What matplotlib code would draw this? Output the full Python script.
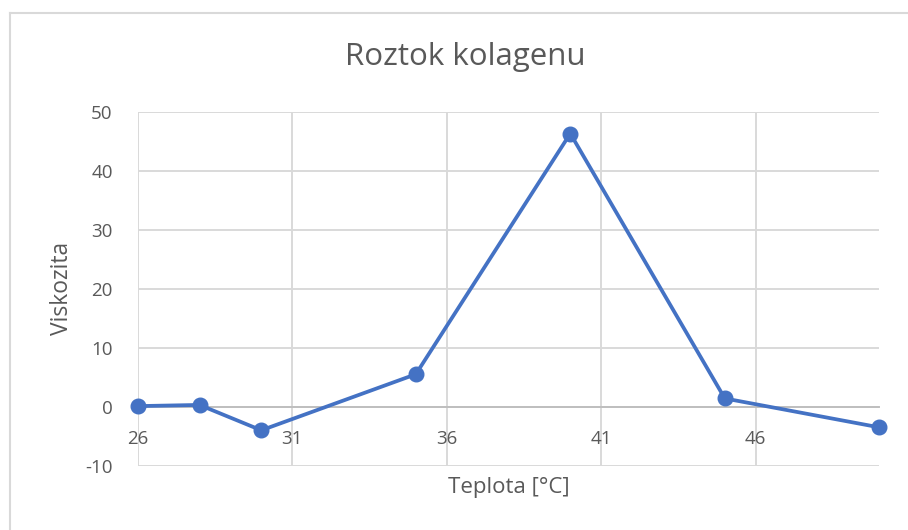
import matplotlib
matplotlib.use("Agg")
import matplotlib.pyplot as plt
from matplotlib.lines import Line2D

# Viscosity of collagen solution vs temperature
teplota = [26, 28, 30, 35, 40, 45, 50]
viskozita = [0.1, 0.3, -4.0, 5.5, 46.3, 1.4, -3.5]
x_ticks = [26, 31, 36, 41, 46]
y_ticks = [-10, 0, 10, 20, 30, 40, 50]

plt.rcParams['font.family'] = ['Open Sans', 'DejaVu Sans']
plt.rcParams['axes.unicode_minus'] = False
TXT = '#595959'
GRID = '#d9d9d9'
BLUE = '#4472C4'

fig = plt.figure(figsize=(9.08, 5.30), dpi=100)
W, H = 908, 530
ax = fig.add_axes([137.7 / W, 1 - 465.7 / H, (879.3 - 137.7) / W, (465.7 - 111.7) / H])

ax.plot(teplota, viskozita, color=BLUE, lw=2.7, marker='o', ms=10.5,
        markerfacecolor=BLUE, markeredgecolor=BLUE, zorder=3, clip_on=False)

ax.set_xlim(26, 50)
ax.set_ylim(-10, 50)
ax.set_xticks(x_ticks)
ax.set_yticks(y_ticks)
ax.grid(True, color=GRID, lw=1.4)
ax.set_axisbelow(True)

for side in ['top', 'right', 'left']:
    ax.spines[side].set_visible(False)
ax.spines['bottom'].set_position(('data', 0))
ax.spines['bottom'].set_color('#bfbfbf')
ax.spines['bottom'].set_linewidth(1.4)

ax.tick_params(axis='both', length=0, labelsize=13.5, labelcolor=TXT)
ax.tick_params(axis='x', pad=17)
ax.tick_params(axis='y', pad=18)

fig.text(508.5 / W, 1 - 487 / H, 'Teplota [°C]', ha='center', va='center',
         fontsize=16, color=TXT)
fig.text(62 / W, 1 - 288 / H, 'Viskozita', ha='center', va='center',
         rotation=90, fontsize=16.5, color=TXT)
fig.text(465 / W, 1 - 57 / H, 'Roztok kolagenu', ha='center', va='center',
         fontsize=22.5, color=TXT)

# chart border
fig.add_artist(Line2D([10 / W, 10 / W], [0, 1 - 13 / H], color=GRID, lw=1.5))
fig.add_artist(Line2D([10 / W, 1], [1 - 13 / H, 1 - 13 / H], color=GRID, lw=1.5))

fig.savefig('out.png', dpi=100)
